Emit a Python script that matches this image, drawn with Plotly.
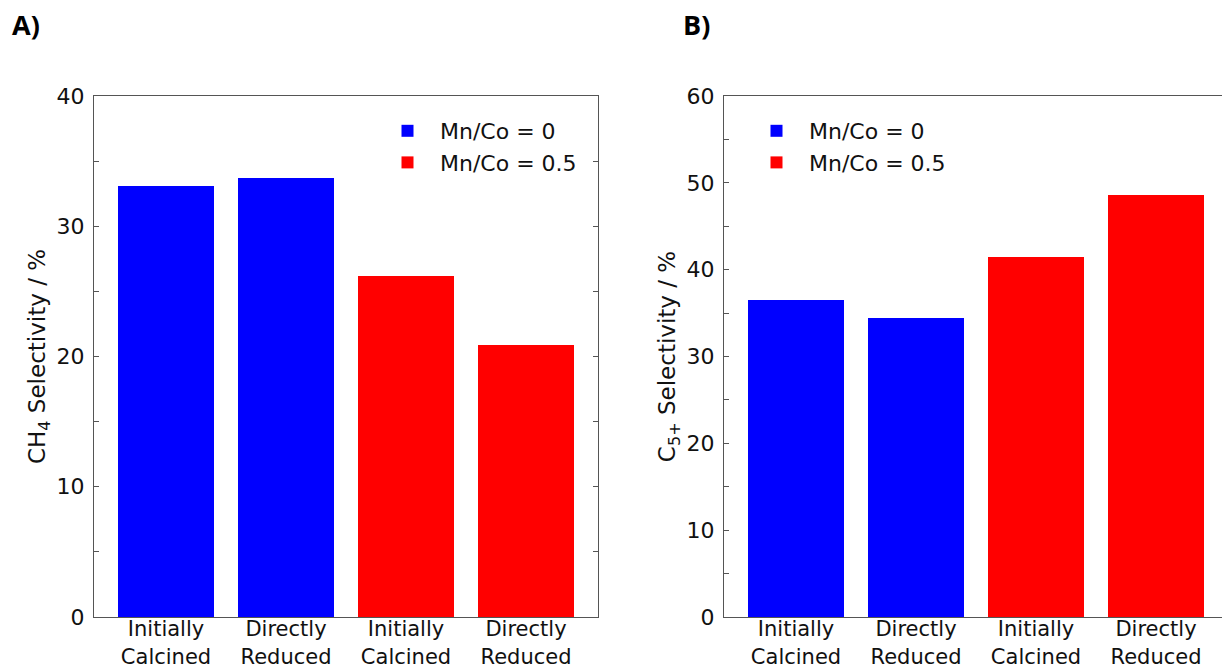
import plotly.graph_objects as go

categories = ["Initially<br>Calcined", "Directly<br>Reduced", "Initially<br>Calcined", "Directly<br>Reduced"]
positions = [0, 1, 2, 3]
series_names = ["Mn/Co = 0", "Mn/Co = 0.5"]
colors = ["#0000ff", "#ff0000"]

ch4_mnco0 = [33.1, 33.7]
ch4_mnco05 = [26.2, 20.9]
c5_mnco0 = [36.5, 34.4]
c5_mnco05 = [41.5, 48.6]

W, H = 1222, 668
FONT = "DejaVu Sans"
AX_COLOR = "#555555"

fig = go.Figure()

# Left panel
fig.add_trace(go.Bar(x=positions[:2], y=ch4_mnco0, width=0.8, marker_color=colors[0],
                     marker_line_width=0, name=series_names[0], xaxis="x", yaxis="y", legend="legend"))
fig.add_trace(go.Bar(x=positions[2:], y=ch4_mnco05, width=0.8, marker_color=colors[1],
                     marker_line_width=0, name=series_names[1], xaxis="x", yaxis="y", legend="legend"))
# Right panel
fig.add_trace(go.Bar(x=positions[:2], y=c5_mnco0, width=0.8, marker_color=colors[0],
                     marker_line_width=0, name=series_names[0], xaxis="x2", yaxis="y2", legend="legend2"))
fig.add_trace(go.Bar(x=positions[2:], y=c5_mnco05, width=0.8, marker_color=colors[1],
                     marker_line_width=0, name=series_names[1], xaxis="x2", yaxis="y2", legend="legend2"))

ydom = [1 - 617 / H, 1 - 96 / H]

common_x = dict(tickvals=positions, ticktext=categories, showline=True, linecolor=AX_COLOR,
                linewidth=1.3, ticks="", showgrid=False, zeroline=False, automargin=False,
                ticklabelstandoff=-7,
                tickfont=dict(family=FONT, size=21, color="#111111"))
common_y = dict(showline=True, linecolor=AX_COLOR, linewidth=1.3, ticks="inside", ticklen=5,
                tickcolor=AX_COLOR, showgrid=False, zeroline=False, automargin=False, dtick=10,
                minor=dict(dtick=5, ticks="inside", ticklen=5, tickcolor=AX_COLOR, showgrid=False),
                tickfont=dict(family=FONT, size=22, color="#111111"), ticklabelstandoff=4)

fig.update_layout(
    width=W, height=H,
    margin=dict(l=0, r=0, t=0, b=0),
    paper_bgcolor="white", plot_bgcolor="white",
    font=dict(family=FONT, color="#111111"),
    xaxis=dict(domain=[94 / W, 598 / W], range=[-0.6, 3.6], anchor="y", mirror="ticks", **common_x),
    yaxis=dict(domain=ydom, range=[0, 40], anchor="x", mirror="ticks",
               title=dict(text="CH<sub>4</sub> Selectivity / %", font=dict(family=FONT, size=23), standoff=4),
               **common_y),
    xaxis2=dict(domain=[724 / W, 1.0], range=[-0.6, 3.6 - 6 / 120], anchor="y2", mirror=True, **common_x),
    yaxis2=dict(domain=ydom, range=[0, 60], anchor="x2",
                title=dict(text="C<sub>5+</sub> Selectivity / %", font=dict(family=FONT, size=23), standoff=4),
                **common_y),
    legend=dict(x=582 / W, y=1 - 110 / H, xanchor="right", yanchor="top", bgcolor="rgba(0,0,0,0)",
                font=dict(family=FONT, size=22, color="#111111"), itemwidth=55, tracegroupgap=2),
    legend2=dict(x=744 / W, y=1 - 110 / H, xanchor="left", yanchor="top", bgcolor="rgba(0,0,0,0)",
                 font=dict(family=FONT, size=22, color="#111111"), itemwidth=55, tracegroupgap=2),
    bargap=0,
    annotations=[
        dict(text="<b>A)</b>", x=10 / W, y=1 - 4 / H, xref="paper", yref="paper", xanchor="left", yanchor="top",
             showarrow=False, font=dict(family="Open Sans", size=27, color="#000000")),
        dict(text="<b>B)</b>", x=681 / W, y=1 - 4 / H, xref="paper", yref="paper", xanchor="left", yanchor="top",
             showarrow=False, font=dict(family="Open Sans", size=27, color="#000000")),
    ],
)

fig.write_html("out.html")
